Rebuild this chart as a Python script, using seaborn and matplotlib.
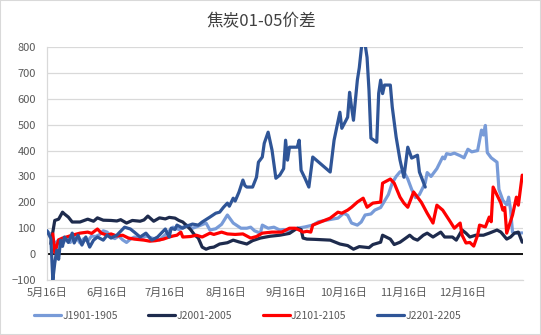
import matplotlib
matplotlib.use("Agg")
import matplotlib.pyplot as plt
from matplotlib.patches import Rectangle
import pandas as pd
import seaborn as sns

# Coke futures Jan-May calendar spread, four contract years.
# x values are days counted from 16 May, y values are spread in yuan/t.
start_date = "2020-05-16"
end_day = 245.4

series_names = ["J1901-1905", "J2001-2005", "J2101-2105", "J2201-2205"]
series_colors = ["#789BD8", "#1E2B4D", "#FF0000", "#2F5597"]

j1901_days = [0, 2, 4, 6, 8, 10, 12, 14, 16, 17, 19, 21, 23, 25, 27, 29, 31, 33, 35, 37,
              39, 41, 43, 45, 48, 51, 54, 58, 61, 65, 68, 72, 75, 78, 82, 84, 87, 90, 93,
              96, 100, 103, 105, 107, 110, 111, 114, 117, 120, 122, 125, 129, 133, 137,
              140, 144, 150, 153, 155, 157, 160, 162, 164, 167, 169, 172, 174, 176, 178,
              180, 182, 184, 186, 188, 190, 192, 195, 196, 198, 201, 203, 204, 205, 206,
              208, 210, 213, 215, 217, 219, 222, 224, 225, 226, 227, 229, 232, 233, 235,
              237, 238, 239, 240, 242, 245]
j1901_vals = [90, 75, 40, 55, 40, 60, 45, 65, 55, 43, 60, 50, 70, 68, 75, 90, 85, 66, 60, 70,
              55, 45, 58, 66, 60, 70, 62, 54, 75, 104, 95, 112, 100, 108, 120, 93, 98, 115, 151,
              120, 100, 100, 104, 90, 81, 112, 100, 104, 93, 95, 88, 100, 105, 112,
              125, 131, 139, 158, 150, 120, 112, 124, 151, 155, 170, 180, 205, 230, 275,
              300, 318, 318, 290, 250, 218, 230, 275, 315, 300, 330, 360, 375, 368, 388,
              385, 390, 380, 372, 405, 395, 400, 479, 460, 497, 392, 372, 355, 250, 208,
              190, 220, 170, 85, 80, 82]

j2001_days = [2, 4, 6, 8, 9, 11, 13, 17, 21, 24, 26, 29, 33, 36, 38, 41, 44, 48, 50, 52,
              55, 58, 61, 63, 66, 68, 70, 72, 74, 76, 78, 80, 82, 84, 86, 89, 93, 96, 99,
              103, 106, 110, 115, 120, 125, 129, 131, 132, 134, 138, 146, 151, 155, 158,
              161, 166, 168, 172, 173, 177, 179, 182, 185, 187, 189, 191, 194, 196, 199,
              203, 205, 209, 211, 214, 216, 218, 221, 225, 228, 232, 234, 237, 239, 241,
              243, 245]
j2001_vals = [40, 130, 135, 162, 155, 143, 124, 124, 135, 127, 140, 131, 130, 128, 133, 120,
              130, 127, 132, 147, 127, 140, 136, 142, 139, 130, 124, 110, 95, 75, 62, 27, 19,
              25, 27, 39, 44, 54, 47, 39, 52, 62, 69, 73, 80, 100, 95, 62, 58, 57, 54, 39,
              33, 19, 29, 25, 37, 46, 73, 58, 37, 46, 62, 73, 60, 54, 73, 81, 66, 85, 66,
              66, 54, 93, 81, 66, 73, 73, 81, 93, 85, 58, 66, 81, 85, 46]

j2101_days = [3, 4, 6, 8, 10, 13, 17, 21, 23, 26, 28, 31, 33, 36, 39, 42, 45, 50, 53, 56,
              60, 63, 65, 67, 69, 70, 74, 77, 80, 84, 86, 90, 93, 97, 101, 105, 108, 111,
              116, 121, 125, 128, 130, 132, 134, 136, 137, 141, 146, 150, 152, 155, 157,
              160, 163, 165, 168, 172, 173, 177, 179, 182, 184, 186, 189, 191, 193, 196,
              199, 201, 204, 208, 210, 213, 214, 216, 218, 220, 222, 223, 226, 228, 229,
              230, 234, 235, 236, 237, 240, 242, 243, 245]
j2101_vals = [78, 5, 55, 62, 66, 73, 81, 85, 80, 97, 81, 73, 78, 70, 73, 62, 58, 54, 50, 52,
              58, 66, 70, 73, 85, 66, 68, 73, 66, 81, 76, 85, 78, 76, 78, 62, 68, 81,
              85, 85, 100, 100, 93, 85, 88, 85, 112, 124, 139, 162, 158, 170, 181,
              201, 216, 181, 197, 201, 274, 290, 274, 220, 197, 181, 240, 220, 200, 158,
              120, 189, 170, 124, 100, 120, 73, 43, 45, 31, 73, 112, 105, 143, 125,
              259, 197, 170, 180, 81, 151, 220, 189, 305]

j2201_days = [0, 2, 3, 4, 5, 6, 7, 8, 9, 11, 13, 14, 16, 18, 20, 22, 24, 26, 29, 31, 33, 36,
              40, 43, 45, 48, 51, 54, 57, 61, 62, 63, 64, 66, 67, 70, 72, 75, 78, 80, 84,
              87, 89, 91, 93, 94, 96, 97, 99, 101, 102, 103, 106, 108, 109, 111, 112, 114,
              116, 118, 120, 122, 123, 124, 125, 129, 130, 131, 133, 135, 137, 146, 148,
              151, 152, 155, 156, 157, 158, 160, 161, 163, 165, 166, 167, 170, 171, 172,
              173, 174, 177, 178, 180, 182, 184, 186, 188, 191, 192, 195]
j2201_vals = [90, 60, -100, -35, 15, -20, 54, 30, 66, 45, 81, 43, 73, 35, 66, 27, 54, 66, 54,
              73, 62, 73, 104, 97, 85, 66, 81, 54, 66, 97, 80, 66, 100, 95, 112, 100, 108,
              116, 112, 124, 143, 158, 162, 181, 197, 185, 216, 205, 240, 286, 265, 259,
              259, 297, 355, 375, 428, 471, 402, 293, 305, 330, 440, 363, 413, 413, 440,
              324, 293, 259, 375, 317, 440, 548, 486, 529, 625, 568, 517, 672, 720, 860,
              760, 633, 448, 432, 621, 672, 620, 653, 653, 568, 452, 363, 297, 413, 371,
              382, 317, 259]

x_tick_days = [0, 31, 61, 92, 123, 153, 184, 214]
x_tick_labels = ["5月16日", "6月16日", "7月16日", "8月16日", "9月16日", "10月16日",
                 "11月16日", "12月16日"]
y_ticks = list(range(-100, 801, 100))
title = "焦炭01-05价差"

base = pd.Timestamp(start_date)
frames = []
for name, days, vals in zip(series_names,
                            [j1901_days, j2001_days, j2101_days, j2201_days],
                            [j1901_vals, j2001_vals, j2101_vals, j2201_vals]):
    frames.append(pd.DataFrame({
        "date": base + pd.to_timedelta(days, unit="D"),
        "spread": vals,
        "contract": name,
    }))
df = pd.concat(frames, ignore_index=True)

sns.set_theme(style="white")
plt.rcParams["font.family"] = ["Noto Sans CJK SC", "DejaVu Sans"]

W, H = 541, 335
fig = plt.figure(figsize=(W / 100, H / 100), dpi=100)
ax = fig.add_axes([47 / W, 1 - 280 / H, (523 - 47) / W, (280 - 47) / H])

grid_color = "#D9D9D9"
text_color = "#595959"

sns.lineplot(data=df, x="date", y="spread", hue="contract", hue_order=series_names,
             palette=dict(zip(series_names, series_colors)), estimator=None,
             sort=False, linewidth=2.3, ax=ax, legend=False, zorder=3)

ax.set_ylim(-100, 800)
ax.set_yticks(y_ticks)
ax.set_xlim(base, base + pd.Timedelta(days=end_day))
ax.set_xticks([base + pd.Timedelta(days=d) for d in x_tick_days])
ax.set_xticklabels(x_tick_labels)
ax.set_xlabel("")
ax.set_ylabel("")

ax.yaxis.grid(True, color=grid_color, linewidth=0.9)
ax.set_axisbelow(True)
ax.axhline(0, color="black", linewidth=1.3, zorder=2)

for side in ["top", "right"]:
    ax.spines[side].set_visible(False)
for side in ["left", "bottom"]:
    ax.spines[side].set_color(grid_color)
    ax.spines[side].set_linewidth(0.9)

ax.tick_params(axis="both", length=0, labelsize=8, labelcolor=text_color)
ax.tick_params(axis="y", pad=8)
ax.tick_params(axis="x", pad=6)

fig.text(261 / W, 1 - 22 / H, title, ha="center", va="center", fontsize=12,
         color="#404040")

handles = [plt.Line2D([], [], color=c, linewidth=2.3) for c in series_colors]
fig.legend(handles, series_names, loc="center left",
           bbox_to_anchor=(34 / W, 1 - 316 / H), ncol=4, frameon=False,
           fontsize=7.5, handlelength=2.6, handletextpad=0.1, columnspacing=2.95,
           borderpad=0, borderaxespad=0, labelcolor=text_color)

fig.patches.append(Rectangle((0, 0), 1, 1, transform=fig.transFigure, fill=False,
                             edgecolor=grid_color, linewidth=1.5))

fig.savefig("out.png", dpi=100)
